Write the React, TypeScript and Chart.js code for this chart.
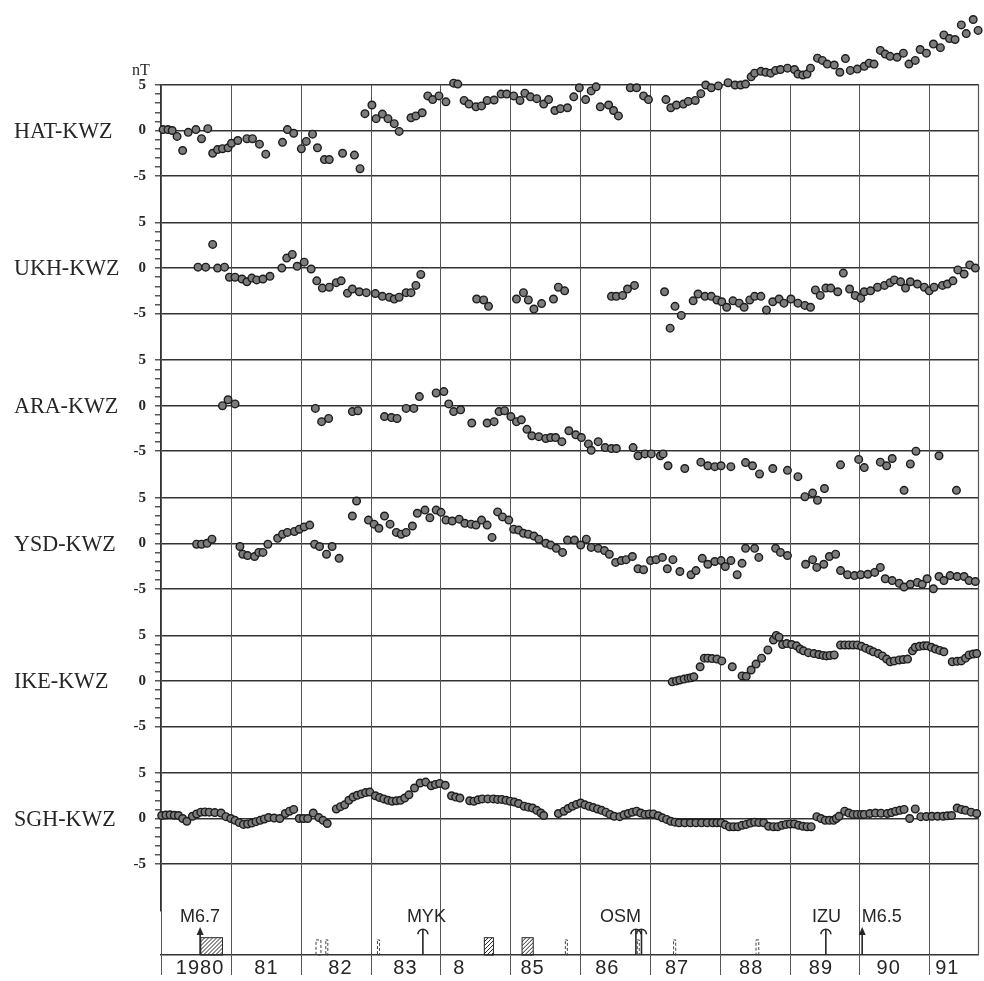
import { useEffect, useRef } from 'react';
import { Chart, registerables } from 'chart.js';

Chart.register(...registerables);

// ---- time axis -------------------------------------------------------------
const X_MIN = 1980;
const X_MAX = 1991.71;
const YEAR_TICKS = [1980, 1981, 1982, 1983, 1984, 1985, 1986, 1987, 1988, 1989, 1990, 1991];
const YEAR_LABELS = ['1980', '81', '82', '83', '8', '85', '86', '87', '88', '89', '90', '91'];
const YEAR_LABEL_T = [1980.56, 1981.51, 1982.57, 1983.5, 1984.27, 1985.32, 1986.39, 1987.39, 1988.45, 1989.45, 1990.42, 1991.26];

// ---- station differences (nT) ----------------------------------------------
const STATIONS = ['HAT-KWZ', 'UKH-KWZ', 'ARA-KWZ', 'YSD-KWZ', 'IKE-KWZ', 'SGH-KWZ'];

const HAT_T = [1980.03, 1980.10, 1980.16, 1980.23, 1980.31, 1980.39, 1980.50, 1980.58, 1980.67, 1980.74, 1980.81, 1980.88, 1980.96, 1981.01, 1981.10, 1981.23, 1981.31, 1981.41, 1981.50, 1981.74, 1981.81, 1981.90, 1982.01, 1982.08, 1982.17, 1982.24, 1982.34, 1982.41, 1982.60, 1982.77, 1982.85, 1982.92, 1983.02, 1983.08, 1983.17, 1983.25, 1983.34, 1983.41, 1983.58, 1983.65, 1983.74, 1983.82, 1983.89, 1983.98, 1984.08, 1984.19, 1984.25, 1984.34, 1984.41, 1984.51, 1984.59, 1984.67, 1984.77, 1984.87, 1984.95, 1985.05, 1985.14, 1985.21, 1985.29, 1985.38, 1985.48, 1985.55, 1985.64, 1985.72, 1985.82, 1985.91, 1985.99, 1986.08, 1986.16, 1986.23, 1986.29, 1986.41, 1986.48, 1986.55, 1986.72, 1986.81, 1986.91, 1986.98, 1987.23, 1987.30, 1987.38, 1987.48, 1987.55, 1987.65, 1987.73, 1987.80, 1987.88, 1987.98, 1988.12, 1988.22, 1988.30, 1988.37, 1988.45, 1988.50, 1988.59, 1988.66, 1988.73, 1988.80, 1988.87, 1988.97, 1989.07, 1989.12, 1989.19, 1989.25, 1989.30, 1989.40, 1989.47, 1989.54, 1989.64, 1989.72, 1989.80, 1989.87, 1989.97, 1990.07, 1990.14, 1990.21, 1990.30, 1990.37, 1990.44, 1990.54, 1990.63, 1990.71, 1990.80, 1990.87, 1990.96, 1991.06, 1991.16, 1991.21, 1991.29, 1991.37, 1991.46, 1991.53, 1991.63, 1991.70];
const HAT_V = [0.1, 0.1, 0.0, -0.65, -2.2, -0.2, 0.1, -0.9, 0.2, -2.5, -2.1, -2.0, -1.9, -1.4, -1.1, -0.9, -0.9, -1.5, -2.6, -1.3, 0.1, -0.3, -2.0, -1.2, -0.4, -1.9, -3.2, -3.2, -2.5, -2.7, -4.2, 1.85, 2.8, 1.3, 1.8, 1.3, 0.75, -0.1, 1.4, 1.6, 1.95, 3.8, 3.4, 3.8, 3.15, 5.2, 5.1, 3.3, 2.9, 2.6, 2.7, 3.3, 3.35, 4.0, 4.0, 3.8, 3.3, 4.1, 3.7, 3.5, 2.9, 3.4, 2.2, 2.4, 2.5, 3.7, 4.7, 3.4, 4.35, 4.8, 2.6, 2.8, 2.2, 1.6, 4.7, 4.7, 3.8, 3.4, 3.4, 2.5, 2.8, 2.9, 3.2, 3.3, 4.05, 5.0, 4.7, 4.9, 5.25, 5.0, 5.0, 5.1, 5.9, 6.3, 6.5, 6.4, 6.3, 6.6, 6.7, 6.85, 6.7, 6.2, 6.1, 6.2, 6.85, 7.95, 7.7, 7.3, 7.2, 6.4, 7.9, 6.6, 6.75, 7.05, 7.4, 7.3, 8.8, 8.4, 8.15, 8.05, 8.5, 7.3, 7.7, 8.9, 8.5, 9.5, 9.1, 10.5, 10.1, 10.0, 11.6, 10.65, 12.2, 11.0];

const UKH_T = [1980.53, 1980.64, 1980.74, 1980.81, 1980.91, 1980.98, 1981.06, 1981.16, 1981.23, 1981.30, 1981.37, 1981.46, 1981.56, 1981.73, 1981.80, 1981.88, 1981.95, 1982.05, 1982.15, 1982.23, 1982.31, 1982.41, 1982.51, 1982.58, 1982.67, 1982.74, 1982.84, 1982.94, 1983.07, 1983.17, 1983.27, 1983.34, 1983.41, 1983.51, 1983.58, 1983.65, 1983.72, 1984.52, 1984.62, 1984.69, 1985.09, 1985.19, 1985.26, 1985.34, 1985.45, 1985.62, 1985.69, 1985.78, 1986.45, 1986.52, 1986.61, 1986.68, 1986.78, 1987.21, 1987.29, 1987.36, 1987.45, 1987.62, 1987.69, 1987.79, 1987.88, 1987.96, 1988.03, 1988.10, 1988.19, 1988.28, 1988.35, 1988.43, 1988.50, 1988.59, 1988.67, 1988.76, 1988.85, 1988.92, 1989.02, 1989.12, 1989.22, 1989.30, 1989.37, 1989.44, 1989.52, 1989.59, 1989.69, 1989.77, 1989.86, 1989.94, 1990.02, 1990.07, 1990.16, 1990.26, 1990.36, 1990.44, 1990.50, 1990.59, 1990.66, 1990.73, 1990.83, 1990.93, 1991.00, 1991.07, 1991.19, 1991.26, 1991.34, 1991.41, 1991.50, 1991.58, 1991.66];
const UKH_V = [0.1, 0.1, 2.6, 0.0, 0.1, -1.0, -1.0, -1.2, -1.5, -1.1, -1.3, -1.2, -0.9, 0.0, 1.1, 1.5, 0.2, 0.65, -0.1, -1.4, -2.2, -2.1, -1.6, -1.4, -2.75, -2.3, -2.6, -2.7, -2.8, -3.1, -3.2, -3.4, -3.2, -2.7, -2.7, -1.9, -0.7, -3.4, -3.5, -4.2, -3.4, -2.7, -3.5, -4.5, -3.9, -3.4, -2.1, -2.5, -3.1, -3.1, -3.0, -2.3, -1.9, -2.6, -6.6, -4.2, -5.2, -3.6, -2.85, -3.1, -3.1, -3.5, -3.7, -4.3, -3.6, -3.85, -4.3, -3.5, -3.1, -3.1, -4.6, -3.7, -3.4, -3.85, -3.4, -3.85, -4.1, -4.3, -2.4, -3.0, -2.2, -2.2, -2.6, -0.55, -2.3, -3.0, -3.3, -2.6, -2.5, -2.1, -1.9, -1.6, -1.3, -1.5, -2.2, -1.5, -1.75, -2.1, -2.5, -2.1, -1.9, -1.75, -1.4, -0.2, -0.65, 0.35, 0.0];

const ARA_T = [1980.88, 1980.96, 1981.06, 1982.21, 1982.30, 1982.40, 1982.74, 1982.82, 1983.20, 1983.30, 1983.38, 1983.51, 1983.62, 1983.70, 1983.94, 1984.05, 1984.12, 1984.19, 1984.29, 1984.45, 1984.67, 1984.77, 1984.84, 1984.92, 1985.01, 1985.09, 1985.16, 1985.24, 1985.31, 1985.41, 1985.51, 1985.58, 1985.65, 1985.74, 1985.84, 1985.94, 1986.02, 1986.12, 1986.16, 1986.26, 1986.36, 1986.45, 1986.52, 1986.76, 1986.83, 1986.93, 1987.02, 1987.15, 1987.19, 1987.26, 1987.50, 1987.73, 1987.83, 1987.93, 1988.02, 1988.16, 1988.37, 1988.47, 1988.57, 1988.76, 1988.97, 1989.12, 1989.22, 1989.33, 1989.40, 1989.50, 1989.73, 1989.99, 1990.07, 1990.30, 1990.39, 1990.47, 1990.64, 1990.73, 1990.81, 1991.14, 1991.39];
const ARA_V = [0.0, 0.65, 0.2, -0.3, -1.75, -1.4, -0.65, -0.55, -1.2, -1.3, -1.4, -0.3, -0.3, 1.0, 1.4, 1.55, 0.2, -0.65, -0.45, -1.9, -1.9, -1.75, -0.65, -0.55, -1.2, -1.75, -1.55, -2.6, -3.3, -3.4, -3.6, -3.5, -3.5, -3.95, -2.75, -3.2, -3.5, -4.2, -4.9, -3.95, -4.6, -4.7, -4.7, -4.6, -5.5, -5.3, -5.3, -5.5, -5.3, -6.6, -6.9, -6.2, -6.6, -6.7, -6.6, -6.7, -6.25, -6.6, -7.5, -6.9, -7.1, -7.8, -10.0, -9.6, -10.4, -9.1, -6.5, -5.9, -6.8, -6.2, -6.6, -5.8, -9.3, -6.4, -5.0, -5.5, -9.3];

const YSD_T = [1980.51, 1980.58, 1980.66, 1980.73, 1981.13, 1981.17, 1981.24, 1981.34, 1981.40, 1981.46, 1981.53, 1981.67, 1981.74, 1981.81, 1981.91, 1981.98, 1982.05, 1982.13, 1982.20, 1982.27, 1982.37, 1982.45, 1982.55, 1982.74, 1982.80, 1982.97, 1983.05, 1983.12, 1983.20, 1983.28, 1983.37, 1983.44, 1983.51, 1983.60, 1983.67, 1983.78, 1983.85, 1983.94, 1984.01, 1984.08, 1984.17, 1984.27, 1984.35, 1984.44, 1984.51, 1984.59, 1984.67, 1984.74, 1984.82, 1984.89, 1984.98, 1985.05, 1985.12, 1985.19, 1985.26, 1985.34, 1985.41, 1985.51, 1985.58, 1985.66, 1985.75, 1985.82, 1985.92, 1986.01, 1986.09, 1986.16, 1986.26, 1986.35, 1986.42, 1986.51, 1986.59, 1986.66, 1986.75, 1986.83, 1986.91, 1987.01, 1987.09, 1987.18, 1987.25, 1987.33, 1987.43, 1987.59, 1987.66, 1987.75, 1987.83, 1987.93, 1988.02, 1988.08, 1988.16, 1988.25, 1988.32, 1988.37, 1988.50, 1988.56, 1988.80, 1988.87, 1988.97, 1989.23, 1989.33, 1989.39, 1989.49, 1989.57, 1989.66, 1989.73, 1989.83, 1989.93, 1990.02, 1990.12, 1990.22, 1990.30, 1990.37, 1990.47, 1990.57, 1990.64, 1990.73, 1990.83, 1990.90, 1990.97, 1991.06, 1991.14, 1991.21, 1991.30, 1991.40, 1991.50, 1991.57, 1991.66];
const YSD_V = [-0.1, -0.1, 0.0, 0.45, -0.35, -1.2, -1.35, -1.45, -1.0, -1.0, -0.1, 0.55, 1.0, 1.2, 1.3, 1.55, 1.8, 2.0, -0.1, -0.35, -1.2, -0.35, -1.65, 3.0, 4.65, 2.55, 2.1, 1.65, 3.0, 2.1, 1.2, 1.0, 1.2, 1.9, 3.3, 3.65, 2.8, 3.65, 3.4, 2.55, 2.45, 2.65, 2.2, 2.1, 2.0, 2.55, 2.0, 0.65, 3.45, 2.9, 2.55, 1.55, 1.45, 1.1, 1.0, 0.8, 0.45, 0.0, -0.2, -0.55, -1.0, 0.35, 0.35, -0.2, 0.45, -0.45, -0.55, -0.8, -1.2, -2.1, -1.9, -1.8, -1.45, -2.8, -2.9, -1.9, -1.8, -1.55, -2.8, -1.8, -3.1, -3.45, -3.0, -1.65, -2.3, -2.0, -1.9, -2.55, -1.9, -3.45, -2.2, -0.55, -0.55, -1.55, -0.55, -1.0, -1.35, -2.3, -1.8, -2.65, -2.3, -1.45, -1.2, -3.0, -3.45, -3.55, -3.45, -3.4, -3.2, -2.65, -3.9, -4.1, -4.4, -4.8, -4.5, -4.3, -4.5, -3.9, -5.0, -3.65, -4.1, -3.55, -3.65, -3.65, -4.1, -4.2];

const IKE_T = [1987.32, 1987.38, 1987.43, 1987.49, 1987.55, 1987.59, 1987.63, 1987.72, 1987.78, 1987.83, 1987.89, 1987.96, 1988.03, 1988.18, 1988.32, 1988.38, 1988.45, 1988.52, 1988.60, 1988.69, 1988.77, 1988.81, 1988.85, 1988.90, 1988.96, 1989.03, 1989.10, 1989.15, 1989.20, 1989.27, 1989.35, 1989.42, 1989.48, 1989.53, 1989.58, 1989.64, 1989.73, 1989.79, 1989.85, 1989.91, 1989.97, 1990.03, 1990.09, 1990.15, 1990.20, 1990.27, 1990.33, 1990.39, 1990.44, 1990.50, 1990.57, 1990.63, 1990.69, 1990.76, 1990.80, 1990.86, 1990.92, 1990.97, 1991.03, 1991.09, 1991.15, 1991.21, 1991.33, 1991.40, 1991.46, 1991.52, 1991.57, 1991.63, 1991.68];
const IKE_V = [-0.1, 0.0, 0.1, 0.2, 0.3, 0.35, 0.45, 1.55, 2.5, 2.5, 2.45, 2.4, 2.2, 1.55, 0.55, 0.5, 1.2, 1.85, 2.5, 3.4, 4.5, 5.0, 4.8, 4.0, 4.1, 4.0, 3.85, 3.5, 3.3, 3.1, 3.0, 2.9, 2.8, 2.75, 2.8, 2.85, 3.95, 3.95, 3.95, 3.95, 3.95, 3.8, 3.6, 3.4, 3.2, 3.0, 2.75, 2.4, 2.1, 2.2, 2.3, 2.35, 2.4, 3.3, 3.7, 3.8, 3.85, 3.85, 3.7, 3.5, 3.35, 3.2, 2.1, 2.15, 2.2, 2.5, 2.85, 2.95, 3.0];

const SGH_T = [1980.01, 1980.07, 1980.13, 1980.19, 1980.25, 1980.31, 1980.37, 1980.45, 1980.51, 1980.57, 1980.63, 1980.69, 1980.77, 1980.86, 1980.93, 1981.00, 1981.06, 1981.12, 1981.18, 1981.24, 1981.30, 1981.36, 1981.42, 1981.48, 1981.54, 1981.62, 1981.70, 1981.78, 1981.84, 1981.90, 1981.98, 1982.04, 1982.10, 1982.18, 1982.26, 1982.32, 1982.38, 1982.51, 1982.57, 1982.63, 1982.69, 1982.75, 1982.81, 1982.87, 1982.93, 1982.99, 1983.07, 1983.13, 1983.19, 1983.25, 1983.31, 1983.37, 1983.43, 1983.49, 1983.55, 1983.63, 1983.71, 1983.79, 1983.87, 1983.93, 1983.99, 1984.07, 1984.16, 1984.22, 1984.28, 1984.42, 1984.48, 1984.54, 1984.60, 1984.68, 1984.76, 1984.82, 1984.88, 1984.94, 1985.00, 1985.06, 1985.12, 1985.20, 1985.26, 1985.32, 1985.38, 1985.44, 1985.48, 1985.69, 1985.77, 1985.83, 1985.89, 1985.95, 1986.01, 1986.07, 1986.13, 1986.19, 1986.25, 1986.31, 1986.37, 1986.43, 1986.49, 1986.57, 1986.63, 1986.69, 1986.75, 1986.81, 1986.87, 1986.93, 1986.99, 1987.05, 1987.12, 1987.18, 1987.24, 1987.30, 1987.36, 1987.42, 1987.50, 1987.58, 1987.66, 1987.74, 1987.82, 1987.90, 1987.96, 1988.02, 1988.08, 1988.14, 1988.20, 1988.26, 1988.32, 1988.38, 1988.44, 1988.50, 1988.56, 1988.63, 1988.70, 1988.77, 1988.83, 1988.89, 1988.95, 1989.01, 1989.07, 1989.13, 1989.19, 1989.25, 1989.31, 1989.39, 1989.45, 1989.51, 1989.57, 1989.63, 1989.67, 1989.71, 1989.79, 1989.85, 1989.91, 1989.97, 1990.03, 1990.07, 1990.15, 1990.23, 1990.31, 1990.40, 1990.46, 1990.52, 1990.58, 1990.64, 1990.72, 1990.80, 1990.88, 1990.96, 1991.04, 1991.12, 1991.20, 1991.26, 1991.32, 1991.40, 1991.46, 1991.52, 1991.60, 1991.68];
const SGH_V = [0.33, 0.38, 0.4, 0.36, 0.33, 0.0, -0.3, 0.25, 0.5, 0.7, 0.72, 0.7, 0.65, 0.6, 0.2, 0.0, -0.2, -0.45, -0.65, -0.6, -0.5, -0.35, -0.2, -0.05, 0.1, 0.05, 0.0, 0.55, 0.8, 1.0, 0.0, 0.0, 0.0, 0.6, 0.1, -0.2, -0.55, 1.05, 1.3, 1.5, 2.0, 2.35, 2.55, 2.7, 2.85, 2.9, 2.5, 2.3, 2.15, 2.0, 1.9, 1.95, 2.0, 2.25, 2.6, 3.35, 3.9, 4.0, 3.6, 3.75, 3.85, 3.65, 2.5, 2.35, 2.25, 1.95, 1.9, 2.05, 2.15, 2.15, 2.15, 2.1, 2.1, 2.0, 1.9, 1.8, 1.65, 1.35, 1.25, 1.15, 0.9, 0.6, 0.33, 0.55, 0.8, 1.1, 1.35, 1.55, 1.7, 1.5, 1.35, 1.2, 1.05, 0.9, 0.7, 0.45, 0.25, 0.2, 0.4, 0.55, 0.7, 0.8, 0.6, 0.45, 0.5, 0.5, 0.3, 0.07, -0.1, -0.3, -0.4, -0.47, -0.47, -0.47, -0.47, -0.47, -0.47, -0.47, -0.47, -0.47, -0.7, -0.9, -0.9, -0.9, -0.75, -0.65, -0.5, -0.4, -0.45, -0.47, -0.85, -0.9, -0.9, -0.75, -0.65, -0.6, -0.6, -0.75, -0.85, -0.9, -0.9, 0.2, 0.0, -0.2, -0.2, -0.2, 0.0, 0.25, 0.8, 0.6, 0.45, 0.45, 0.45, 0.45, 0.55, 0.6, 0.58, 0.55, 0.65, 0.8, 0.9, 1.0, 0.0, 1.05, 0.2, 0.22, 0.25, 0.25, 0.25, 0.3, 0.33, 1.15, 1.0, 0.9, 0.7, 0.55];

const SERIES_T = [HAT_T, UKH_T, ARA_T, YSD_T, IKE_T, SGH_T];
const SERIES_V = [HAT_V, UKH_V, ARA_V, YSD_V, IKE_V, SGH_V];

// ---- events along the bottom strip ------------------------------------------
const QUAKE_T = [1980.56, 1990.04];
const QUAKE_LABELS = ['M6.7', 'M6.5'];
const QUAKE_LABEL_T = [1980.56, 1990.32];
const ERUPTION_T = [1983.75, 1986.8, 1986.88, 1989.52];
const ERUPTION_LABEL_T = [1983.8, 1986.58, 1989.53];
const ERUPTION_LABELS = ['MYK', 'OSM', 'IZU'];
const SWARM_START = [1980.57, 1984.63, 1985.17];
const SWARM_END = [1980.88, 1984.76, 1985.33];
const MINOR_START = [1982.22, 1982.36, 1983.1, 1985.79, 1986.82, 1987.34, 1988.52];
const MINOR_END = [1982.29, 1982.37, 1983.11, 1985.8, 1986.84, 1987.37, 1988.56];

// ---- layout constants ---------------------------------------------------------
const PAD_TOP = 20;
const TOP_ROOM = 65;
const PANEL_H = 137.6;
const STRIP_H = 44.4;
const AXIS_W = 161;
const Y_MAX = 5;
const Y_MIN = -10.12;

const INK = '#262626';
const GRID = '#555555';
const SERIF = '"Liberation Serif", "Times New Roman", serif';
const SANS = '"Liberation Sans", Arial, sans-serif';

const panelScale = (i: number) => ({
  type: 'linear' as const,
  position: 'left' as const,
  stack: 'panels',
  stackWeight: PANEL_H,
  weight: 10 - i,
  min: Y_MIN,
  max: Y_MAX,
  afterBuildTicks: (s: any) => {
    const t = [];
    for (let v = -5; v <= 5; v++) t.push({ value: v });
    s.ticks = t;
  },
  afterFit: (s: any) => {
    s.width = AXIS_W;
  },
  ticks: {
    autoSkip: false,
    padding: 9,
    color: INK,
    font: { family: SERIF, size: 15, weight: 'bold' as const },
    callback: (v: any) => (Number(v) % 5 === 0 ? String(v) : ''),
  },
  grid: {
    drawTicks: true,
    tickLength: 6,
    lineWidth: 1.5,
    color: (ctx: any) => (ctx.tick && ctx.tick.value % 5 === 0 ? '#333' : 'rgba(0,0,0,0)'),
    tickColor: '#555',
  },
  border: { display: true, color: '#333', width: 1.5 },
});

function hatchRect(ctx: CanvasRenderingContext2D, x0: number, x1: number, yTop: number, yBot: number) {
  ctx.save();
  ctx.strokeStyle = INK;
  ctx.lineWidth = 1;
  ctx.strokeRect(x0, yTop, x1 - x0, yBot - yTop);
  ctx.beginPath();
  ctx.rect(x0, yTop, x1 - x0, yBot - yTop);
  ctx.clip();
  ctx.beginPath();
  for (let s = x0 - (yBot - yTop); s < x1; s += 4) {
    ctx.moveTo(s, yBot);
    ctx.lineTo(s + (yBot - yTop), yTop);
  }
  ctx.stroke();
  ctx.restore();
}

// year lines, running from the top panel's upper edge down through the event strip
const yearGridPlugin = {
  id: 'yearGrid',
  beforeDatasetsDraw(chart: any) {
    const { ctx, chartArea, scales } = chart;
    const xs = scales.x;
    const top = scales.y0.getPixelForValue(Y_MAX);
    ctx.save();
    ctx.strokeStyle = GRID;
    ctx.lineWidth = 1;
    YEAR_TICKS.forEach((t) => {
      const x = Math.round(xs.getPixelForValue(t)) + 0.5;
      ctx.beginPath();
      ctx.moveTo(x, top);
      ctx.lineTo(x, chartArea.bottom + 20);
      ctx.stroke();
    });
    const xr = Math.round(xs.getPixelForValue(X_MAX)) - 0.5;
    ctx.lineWidth = 1.2;
    ctx.beginPath();
    ctx.moveTo(xr, top);
    ctx.lineTo(xr, chartArea.bottom);
    ctx.stroke();
    ctx.restore();
  },
};

const decorPlugin = {
  id: 'decor',
  afterDraw(chart: any) {
    const { ctx, chartArea, scales } = chart;
    const xs = scales.x;
    const ev = scales.yEv;
    ctx.save();

    // station names and unit
    ctx.fillStyle = INK;
    ctx.textBaseline = 'middle';
    ctx.textAlign = 'left';
    ctx.font = `24px ${SERIF}`;
    STATIONS.forEach((name, i) => {
      const y = scales['y' + i].getPixelForValue(0);
      ctx.save();
      ctx.translate(14, y + 1);
      ctx.scale(0.92, 1);
      ctx.fillText(name, 0, 0);
      ctx.restore();
    });
    ctx.font = `16px ${SERIF}`;
    ctx.textAlign = 'center';
    ctx.fillText('nT', 141, scales.y0.getPixelForValue(Y_MAX) - 14);

    // year labels centred in each year
    ctx.font = `20px ${SANS}`;
    (ctx as any).letterSpacing = '1px';
    YEAR_LABELS.forEach((lab, i) => {
      ctx.fillText(lab, xs.getPixelForValue(YEAR_LABEL_T[i]), chartArea.bottom + 13);
    });
    (ctx as any).letterSpacing = '0px';

    // event strip
    const base = ev.getPixelForValue(0);
    const labelY = ev.getPixelForValue(0.86);
    ctx.font = `18px ${SANS}`;

    SWARM_START.forEach((t0, i) => {
      hatchRect(ctx, xs.getPixelForValue(t0), xs.getPixelForValue(SWARM_END[i]), ev.getPixelForValue(0.39), base);
    });

    ctx.strokeStyle = '#444';
    ctx.lineWidth = 1;
    MINOR_START.forEach((t0, i) => {
      const x0 = xs.getPixelForValue(t0);
      const x1 = Math.max(x0 + 2, xs.getPixelForValue(MINOR_END[i]));
      const yt = ev.getPixelForValue(0.34);
      ctx.save();
      ctx.setLineDash([3, 2]);
      ctx.strokeRect(x0, yt, x1 - x0, base - yt);
      ctx.restore();
    });

    ctx.strokeStyle = INK;
    ctx.fillStyle = INK;
    ctx.lineWidth = 1.6;
    QUAKE_T.forEach((t, i) => {
      const x = xs.getPixelForValue(t);
      const top = ev.getPixelForValue(0.63);
      ctx.beginPath();
      ctx.moveTo(x, base);
      ctx.lineTo(x, top + 5);
      ctx.stroke();
      ctx.beginPath();
      ctx.moveTo(x, top);
      ctx.lineTo(x - 3.5, top + 8);
      ctx.lineTo(x + 3.5, top + 8);
      ctx.closePath();
      ctx.fill();
      ctx.fillText(QUAKE_LABELS[i], xs.getPixelForValue(QUAKE_LABEL_T[i]), labelY);
    });

    ERUPTION_T.forEach((t) => {
      const x = xs.getPixelForValue(t);
      const top = ev.getPixelForValue(0.58);
      ctx.beginPath();
      ctx.moveTo(x, base);
      ctx.lineTo(x, top);
      ctx.stroke();
      ctx.beginPath();
      ctx.arc(x, top + 5, 5, Math.PI, 2 * Math.PI);
      ctx.stroke();
    });
    ERUPTION_LABELS.forEach((lab, i) => {
      ctx.fillText(lab, xs.getPixelForValue(ERUPTION_LABEL_T[i]), labelY);
    });

    ctx.restore();
  },
};

export default function App() {
  const canvasRef = useRef<HTMLCanvasElement | null>(null);

  useEffect(() => {
    document.body.style.margin = '0';
    document.body.style.background = '#fff';
    const canvas = canvasRef.current;
    if (!canvas) return;

    const datasets = SERIES_T.map((ts, i) => ({
      label: STATIONS[i],
      data: ts.map((t, k) => ({ x: t, y: SERIES_V[i][k] })),
      yAxisID: 'y' + i,
      showLine: false,
      clip: false as const,
      pointRadius: 3.8,
      pointHoverRadius: 3.8,
      pointBackgroundColor: '#7c7c7c',
      pointBorderColor: '#1c1c1c',
      pointBorderWidth: 1.4,
    }));

    const spacer = (stackWeight: number, weight: number) => ({
      type: 'linear',
      position: 'left',
      stack: 'panels',
      stackWeight,
      weight,
      min: 0,
      max: 1,
      afterFit: (s: any) => {
        s.width = AXIS_W;
      },
      ticks: { display: false },
      grid: { display: false },
      border: { display: false },
    });

    const scales: any = {
      x: {
        type: 'linear',
        position: 'bottom',
        min: X_MIN,
        max: X_MAX,
        afterFit: (s: any) => {
          s.height = 26;
        },
        grid: { display: false },
        border: { display: true, color: '#333', width: 1.5 },
        ticks: { display: false },
      },
      // room above the top panel, where its rising values run on
      yTop: spacer(TOP_ROOM, 20),
      // event strip under the panels
      yEv: spacer(STRIP_H, 0),
    };
    STATIONS.forEach((_, i) => {
      scales['y' + i] = panelScale(i);
    });

    const chart = new Chart(canvas, {
      type: 'scatter',
      data: { datasets },
      options: {
        animation: false,
        responsive: false,
        layout: { padding: { top: PAD_TOP, left: 0, right: 2, bottom: 0 } },
        plugins: { legend: { display: false }, tooltip: { enabled: false } },
        events: [],
        scales,
      },
      plugins: [yearGridPlugin, decorPlugin],
    });

    return () => chart.destroy();
  }, []);

  return <canvas ref={canvasRef} width={984} height={981} style={{ display: 'block' }} />;
}
